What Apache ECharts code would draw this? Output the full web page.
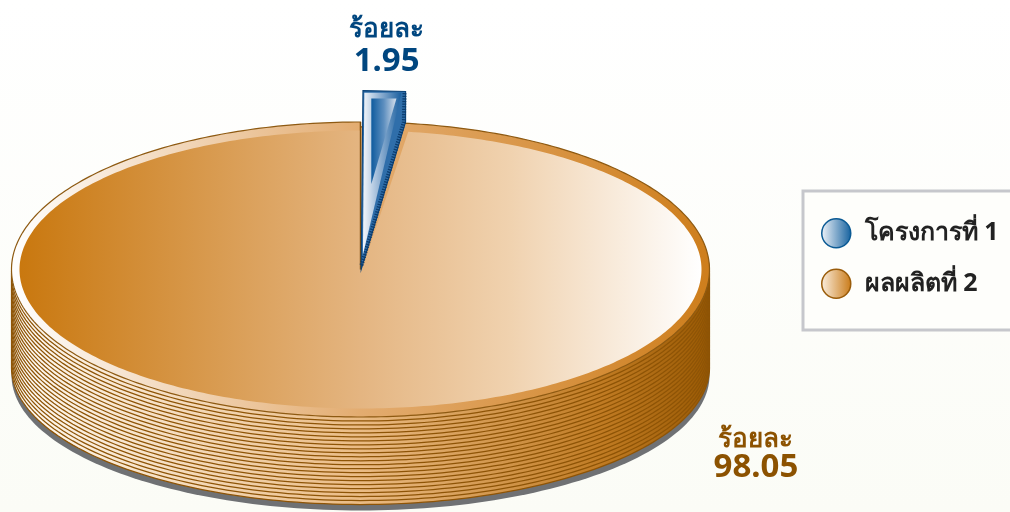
<!DOCTYPE html>
<html><head><meta charset="utf-8">
<style>html,body{margin:0;padding:0;background:#fff}#c{width:1010px;height:512px}</style>
<script src="https://cdn.jsdelivr.net/npm/echarts@6/dist/echarts.min.js"></script>
</head><body><div id="c"></div>
<script>
var categories = ['โครงการที่ 1', 'ผลผลิตที่ 2'];
var values = [1.95, 98.05];
var percentWord = 'ร้อยละ';

var FONT = '"Noto Sans","DejaVu Sans",sans-serif';
var TAU = Math.PI * 2;
var G = echarts.graphic.LinearGradient;
function grad(stops){return new G(0,0,1,0,stops.map(function(s){return {offset:s[0],color:s[1]};}));}
function ring(api,rx,ry,dy,t0,t1,n){
  var pts=[];
  for(var i=0;i<=n;i++){var t=t0+(t1-t0)*i/n;pts.push(api.coord([rx*Math.sin(t),ry*Math.cos(t)+dy]));}
  return pts;
}
var UNIT_PX = 147.5;
var STACK = 22, DROP = 98/22/UNIT_PX, SHRINK = 10.5/22/UNIT_PX;

function renderMain(params, api){
  var small = api.value(0), large = api.value(1);
  var theta = small/(small+large)*TAU;
  var ch=[];
  var shadow = ring(api,1,1-STACK*SHRINK-2/UNIT_PX,-(STACK*DROP+8/UNIT_PX),0,TAU,240);
  ch.push({type:'polygon',shape:{points:shadow},style:{fill:'#6F7174'}});
  for(var k=STACK;k>=1;k--){
    ch.push({type:'polygon',shape:{points:ring(api,1,1-k*SHRINK,-k*DROP,0,TAU,240)},
      style:{fill:grad([[0,'#FFFBF4'],[0.5,'#EABB84'],[0.85,'#BF7A22'],[1,'#9A5A04']]),stroke:'#8E5406',lineWidth:1.25}});
  }
  var outer = ring(api,1,1,0,theta,TAU,360);
  outer.push(api.coord([0,0]));
  ch.push({type:'polygon',shape:{points:outer},
    style:{fill:grad([[0,'#FFFFFF'],[0.5,'#E3AC70'],[1,'#CE7E1C']]),stroke:'#8E5A12',lineWidth:1.2}});
  var inner = ring(api,341/349,139/147.5,0,theta+0.018,TAU,360);
  inner.push(api.coord([0,0]),api.coord([0.004,0]));
  ch.push({type:'polygon',shape:{points:inner},
    style:{fill:grad([[0,'#C9780F'],[0.5,'#E4B581'],[0.72,'#F0D2AF'],[1,'#FFFFFF']])}});
  ch.push({type:'polyline',shape:{points:[api.coord([0,1]),api.coord([0,0])]},style:{stroke:'#7E4E0C',lineWidth:1.4,fill:'none'}});
  var a=api.coord([1.133,-1.155]), b=api.coord([1.133,-1.345]);
  ch.push({type:'text',style:{x:a[0],y:a[1],text:percentWord,fill:'#8C5200',font:'bold 26px '+FONT,align:'center',verticalAlign:'middle'}});
  ch.push({type:'text',style:{x:b[0],y:b[1],text:large.toFixed(2),fill:'#8C5200',font:'bold 33px '+FONT,align:'center',verticalAlign:'middle'}});
  return {type:'group',children:ch};
}

function renderSlice(params, api){
  var small = api.value(0), large = api.value(1);
  var theta = small/(small+large)*TAU;
  var LIFT=1.213, SHIFT=0.007;
  var sx = Math.sin(theta)*1.0;
  var apex=api.coord([0.002,0]);
  var tl=api.coord([SHIFT,LIFT]), tr=api.coord([SHIFT+sx,LIFT-0.006]);
  var rk=api.coord([SHIFT+sx,1.0]);
  var ch=[];
  ch.push({type:'polygon',shape:{points:[apex,tl,tr,rk]},style:{fill:'#2F6EAA',stroke:'#0B4277',lineWidth:1.1}});
  var h0=api.coord([0.003,0.03]), h1=api.coord([SHIFT+sx-0.005,1.0]), h2=api.coord([SHIFT+sx-0.003,LIFT-0.01]);
  ch.push({type:'polyline',shape:{points:[h0,h1,h2]},style:{stroke:'#0B3C6E',lineWidth:4,lineDash:[1.3,1.3],fill:'none'}});
  var f0=api.coord([SHIFT+0.004,LIFT-0.014]), f1=api.coord([SHIFT+sx-0.012,LIFT-0.014]), f2=api.coord([0.007,0.1]);
  ch.push({type:'polygon',shape:{points:[f0,f1,f2]},style:{fill:grad([[0,'#F4F7FB'],[0.45,'#8FB0D2'],[1,'#1A5F9F']])}});
  var i0=api.coord([SHIFT+0.024,LIFT-0.054]), i1=api.coord([SHIFT+0.096,LIFT-0.054]), i2=api.coord([SHIFT+0.024,0.58]);
  ch.push({type:'polygon',shape:{points:[i0,i1,i2]},style:{fill:grad([[0,'#0F5B9E'],[0.5,'#5E8FBF'],[1,'#D6E0EC']])}});
  var a=api.coord([0.075,1.625]), b=api.coord([0.075,1.41]);
  ch.push({type:'text',style:{x:a[0],y:a[1],text:percentWord,fill:'#00467F',font:'bold 26px '+FONT,align:'center',verticalAlign:'middle'}});
  ch.push({type:'text',style:{x:b[0],y:b[1],text:small.toFixed(2),fill:'#00467F',font:'bold 33px '+FONT,align:'center',verticalAlign:'middle'}});
  return {type:'group',children:ch};
}

var chart = echarts.init(document.getElementById('c'),null,{renderer:'canvas'});
chart.setOption({
  animation:false,
  backgroundColor:new echarts.graphic.LinearGradient(0,0,0,1,[{offset:0,color:'#FFFFFF'},{offset:1,color:'#FBFCF6'}]),
  grid:{left:11.5,width:698,top:122,height:295,containLabel:false},
  xAxis:{type:'value',min:-1,max:1,show:false},
  yAxis:{type:'value',min:-1,max:1,show:false},
  legend:{
    orient:'vertical',left:803,top:191,selectedMode:false,
    padding:[27,62,31,18],itemGap:20,itemWidth:29,itemHeight:29,icon:'circle',
    backgroundColor:'#FEFEFB',borderColor:'#C6C7CC',borderWidth:3,
    textStyle:{fontFamily:FONT,fontWeight:'bold',fontSize:25,color:'#222222',padding:[3,0,0,9]},
    data:[
      {name:categories[0],itemStyle:{color:grad([[0,'#F2F5FA'],[1,'#13609E']]),borderColor:'#0B5A94',borderWidth:1.5}},
      {name:categories[1],itemStyle:{color:grad([[0,'#FBEFE0'],[1,'#C97A17']]),borderColor:'#9A5C0A',borderWidth:1.5}}
    ]
  },
  series:[
    {type:'custom',name:categories[1],coordinateSystem:'cartesian2d',renderItem:renderMain,
     itemStyle:{color:'#C97A17'},data:[[values[0],values[1]]],encode:{x:0,y:1},clip:false,silent:true},
    {type:'custom',name:categories[0],coordinateSystem:'cartesian2d',renderItem:renderSlice,
     itemStyle:{color:'#13609E'},data:[[values[0],values[1]]],encode:{x:0,y:1},clip:false,silent:true}
  ]
});
</script></body></html>
